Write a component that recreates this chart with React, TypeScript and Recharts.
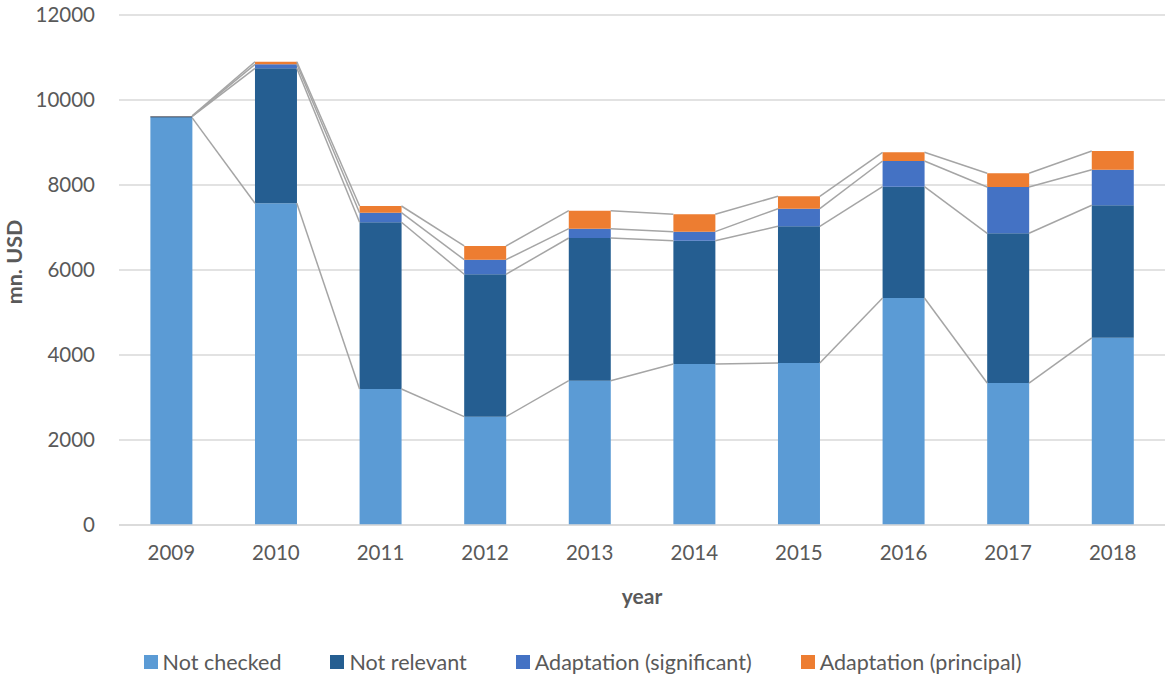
import { BarChart, Bar, XAxis, YAxis, CartesianGrid, Legend, ReferenceLine } from "recharts"

const years = ["2009", "2010", "2011", "2012", "2013", "2014", "2015", "2016", "2017", "2018"]
const notChecked = [9580, 7570, 3200, 2550, 3395, 3790, 3810, 5340, 3340, 4405]
const notRelevant = [35, 3176, 3923, 3349, 3358, 2900, 3218, 2620, 3524, 3118]
const adaptSignificant = [5, 94, 226, 344, 219, 212, 415, 605, 1089, 837]
const adaptPrincipal = [5, 60, 157, 322, 424, 409, 291, 205, 323, 440]
const yTicks = [0, 2000, 4000, 6000, 8000, 10000, 12000]

const series = [
  { key: "notChecked", name: "Not checked", values: notChecked, color: "#5b9bd5" },
  { key: "notRelevant", name: "Not relevant", values: notRelevant, color: "#255e91" },
  { key: "adaptSignificant", name: "Adaptation (significant)", values: adaptSignificant, color: "#4472c4" },
  { key: "adaptPrincipal", name: "Adaptation (principal)", values: adaptPrincipal, color: "#ed7d31" },
]

const data = years.map((year, i) => {
  const row: Record<string, string | number> = { year, pos: i }
  series.forEach((s) => (row[s.key] = s.values[i]))
  return row
})

// running totals for the series lines between bars
const cumulative = series.map((_, k) =>
  years.map((_, i) => series.slice(0, k + 1).reduce((sum, s) => sum + s.values[i], 0))
)

const font = "Lato, 'Open Sans', sans-serif"
const textColor = "#595959"

function LegendContent() {
  return (
    <div
      style={{
        height: 36,
        display: "flex",
        justifyContent: "center",
        alignItems: "center",
        gap: 49,
        fontFamily: font,
        fontSize: 21.5,
        color: textColor,
      }}
    >
      {series.map((s) => (
        <div key={s.key} style={{ display: "flex", alignItems: "center", gap: 5 }}>
          <span style={{ width: 14, height: 14, background: s.color, display: "inline-block" }} />
          <span>{s.name}</span>
        </div>
      ))}
    </div>
  )
}

function YLabel(props: any) {
  const { viewBox } = props
  const x = viewBox.x + 14
  const y = viewBox.y + viewBox.height / 2 - 8
  return (
    <text
      x={x}
      y={y}
      transform={`rotate(-90, ${x}, ${y})`}
      textAnchor="middle"
      dominantBaseline="central"
      fill={textColor}
      fontSize={21.5}
      fontWeight={700}
      fontFamily={font}
    >
      mn. USD
    </text>
  )
}

export default function App() {
  return (
    <div style={{ position: "absolute", left: 0, top: 0 }}>
      <BarChart
        width={1165}
        height={680}
        data={data}
        margin={{ top: 15, right: 0, left: 0, bottom: 0 }}
        barCategoryGap="30%"
      >
        <CartesianGrid vertical={false} stroke="#d9d9d9" strokeWidth={1.3} />
        <XAxis
          dataKey="year"
          height={119}
          axisLine={{ stroke: "#d9d9d9", strokeWidth: 1.3 }}
          tickLine={false}
          tickSize={0}
          tickMargin={20}
          tick={{ fill: textColor, fontSize: 20.5, fontFamily: font }}
          label={{
            value: "year",
            position: "insideBottom",
            offset: 40,
            fill: textColor,
            fontSize: 21,
            fontWeight: 700,
            fontFamily: font,
          }}
        />
        <XAxis xAxisId="seg" dataKey="pos" type="number" domain={[-0.5, 9.5]} hide />
        <YAxis
          width={119}
          domain={[0, 12000]}
          ticks={yTicks}
          axisLine={false}
          tickLine={false}
          tickSize={0}
          tickMargin={24}
          tick={{ fill: textColor, fontSize: 20.5, fontFamily: font }}
          label={<YLabel />}
        />
        {series.map((s) => (
          <Bar key={s.key} dataKey={s.key} name={s.name} stackId="a" fill={s.color} isAnimationActive={false} />
        ))}
        {cumulative.map((totals, k) =>
          years.slice(0, -1).map((_, i) => (
            <ReferenceLine
              key={`seg-${k}-${i}`}
              xAxisId="seg"
              segment={[
                { x: i + 0.2, y: totals[i] },
                { x: i + 0.8, y: totals[i + 1] },
              ]}
              stroke="#a5a5a5"
              strokeWidth={1.5}
              ifOverflow="visible"
            />
          ))
        )}
        <Legend verticalAlign="bottom" content={<LegendContent />} />
      </BarChart>
    </div>
  )
}
